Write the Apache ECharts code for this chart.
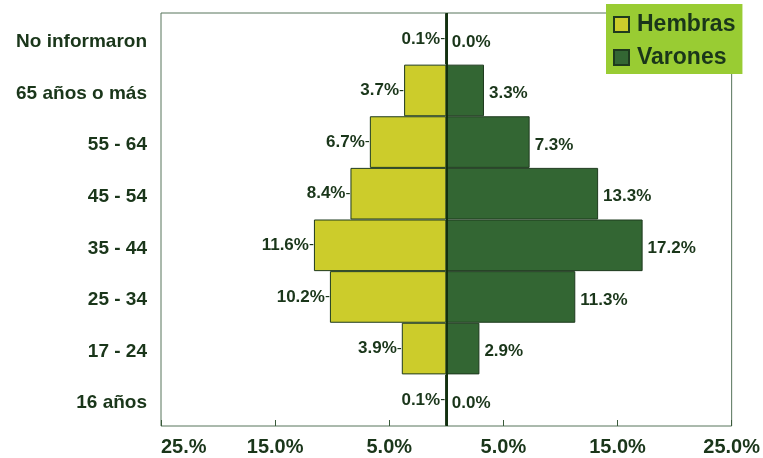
<!DOCTYPE html>
<html>
<head>
<meta charset="utf-8">
<script src="https://cdn.jsdelivr.net/npm/echarts@6/dist/echarts.min.js"></script>
<style>
html,body{margin:0;padding:0;background:#fff;}
#chart{width:763px;height:458px;}
</style>
</head>
<body>
<div id="chart"></div>
<script>
// Data (top to bottom)
const categories = ['No informaron', '65 años o más', '55 - 64', '45 - 54', '35 - 44', '25 - 34', '17 - 24', '16 años'];
const hembras = [0.1, 3.7, 6.7, 8.4, 11.6, 10.2, 3.9, 0.1];
const varones = [0.0, 3.3, 7.3, 13.3, 17.2, 11.3, 2.9, 0.0];
const tickValues = [-25, -15, -5, 5, 15, 25];
const tickLabels = ['25.%', '15.0%', '5.0%', '5.0%', '15.0%', '25.0%'];

const TXT = '#1a361a';
const FONT = "'Liberation Sans', Arial, sans-serif";

const chart = echarts.init(document.getElementById('chart'), null, {renderer: 'canvas'});
chart.setOption({
  animation: false,
  backgroundColor: '#ffffff',
  textStyle: {fontFamily: FONT},
  grid: {
    left: 161, right: 30.5, top: 13, bottom: 32,
    show: true, borderColor: '#56745a', borderWidth: 1, backgroundColor: 'transparent'
  },
  legend: {
    orient: 'vertical',
    left: 606, top: 4,
    backgroundColor: '#99cc33',
    padding: [9, 7, 5, 7],
    itemWidth: 15, itemHeight: 15, itemGap: 10,
    icon: 'rect',
    textStyle: {color: TXT, fontSize: 23, fontWeight: 'bold', fontFamily: FONT, padding: [0, 0, 0, 3]},
    data: ['Hembras', 'Varones']
  },
  xAxis: {
    type: 'value', min: -25, max: 25,
    splitLine: {show: false},
    axisLine: {show: false},
    axisTick: {show: true, inside: true, length: 6, customValues: tickValues, lineStyle: {color: '#3a5a3a'}},
    axisLabel: {
      customValues: tickValues,
      margin: 11,
      color: TXT, fontSize: 20, fontWeight: 'bold', fontFamily: FONT,
      alignMinLabel: 'left',
      formatter: function (v) {
        const i = tickValues.indexOf(v);
        return i >= 0 ? tickLabels[i] : '';
      }
    }
  },
  yAxis: {
    type: 'category', data: categories, inverse: true,
    axisLine: {show: false, onZero: false},
    axisTick: {show: false},
    splitLine: {show: false},
    axisLabel: {
      margin: 14,
      formatter: v => '{c|' + v + '}',
      rich: {c: {color: TXT, fontSize: 19, fontWeight: 'bold', fontFamily: FONT, padding: [6, 0, 0, 0]}}
    }
  },
  series: [
    {
      name: 'Hembras', type: 'bar',
      data: hembras.map(v => -v),
      barGap: '-100%', barCategoryGap: 0,
      itemStyle: {color: '#cccc2b', borderColor: '#1e3a1e', borderWidth: 1},
      label: {
        show: true, position: 'left', distance: 0,
        formatter: p => '{v|' + Math.abs(p.value).toFixed(1) + '%}{d|-}',
        rich: {
          v: {color: TXT, fontSize: 17, fontWeight: 'bold', fontFamily: FONT},
          d: {color: TXT, fontSize: 15, fontWeight: 'normal', fontFamily: FONT}
        }
      },
      markLine: {
        silent: true, symbol: 'none',
        label: {show: false},
        lineStyle: {color: '#12300f', width: 2, type: 'solid'},
        data: [{xAxis: 0}]
      }
    },
    {
      name: 'Varones', type: 'bar',
      data: varones,
      barGap: '-100%', barCategoryGap: 0,
      itemStyle: {color: '#336633', borderColor: '#1e3a1e', borderWidth: 1},
      label: {
        show: true, position: 'right', distance: 5, offset: [0, 3],
        formatter: p => p.value.toFixed(1) + '%',
        color: TXT, fontSize: 17, fontWeight: 'bold', fontFamily: FONT
      }
    }
  ]
});
</script>
</body>
</html>
